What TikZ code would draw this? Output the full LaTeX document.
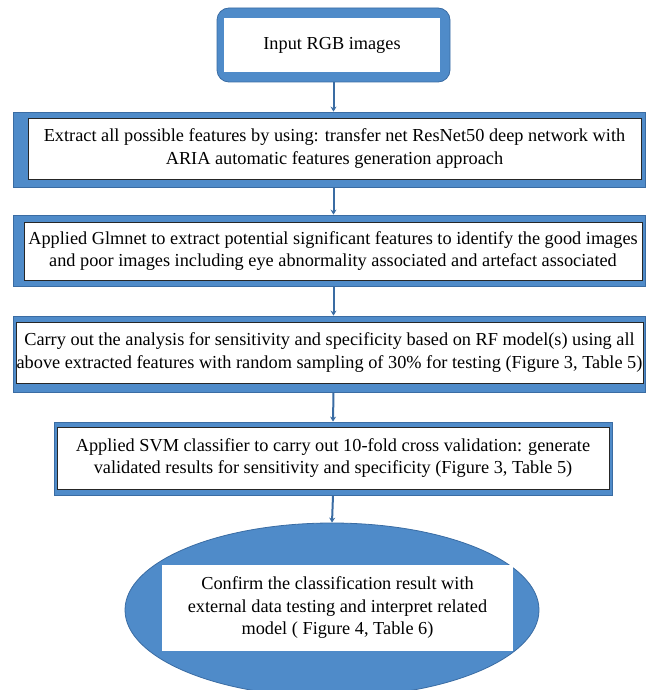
\documentclass[tikz,border=0pt]{standalone}
\usepackage{fontspec}
\setmainfont{Liberation Serif}
\usetikzlibrary{shapes.geometric,arrows.meta}

\definecolor{boxblue}{RGB}{79,139,201}
\definecolor{edgeblue}{RGB}{58,108,163}

\begin{document}
\begin{tikzpicture}[x=1pt,y=-1pt,
  outerbox/.style={draw=edgeblue,fill=boxblue,line width=0.8pt,inner sep=0pt},
  innerbox/.style={draw=black!85,fill=white,line width=0.7pt,inner sep=0pt,align=center,
    font=\fontsize{18.3}{22.5}\selectfont},
  flow/.style={edgeblue,line width=2pt,-{Stealth[length=5pt,width=6pt]}}]

\useasboundingbox (0,0) rectangle (645,690) ;

\node[outerbox,rounded corners=12pt,minimum width=233pt,minimum height=74pt] (out_input) at (333.5,45) {} ;
\node[innerbox,draw=none,minimum width=216pt,minimum height=54pt] (in_input) at (332,45) {Input RGB images} ;

\node[outerbox,minimum width=632pt,minimum height=75pt] (out_extract) at (329,149.5) {} ;
\node[innerbox,minimum width=613pt,minimum height=61pt] (in_extract) at (334.5,148.5)
  {Extract all possible features by using: transfer net ResNet50 deep network with\\ARIA automatic features generation approach} ;

\node[outerbox,minimum width=632pt,minimum height=71pt] (out_glmnet) at (329,250.5) {} ;
\node[innerbox,minimum width=618pt,minimum height=58pt] (in_glmnet) at (333,251)
  {Applied Glmnet to extract potential significant features to identify the good images\\and poor images including eye abnormality associated and artefact associated} ;

\node[outerbox,minimum width=632pt,minimum height=76pt] (out_rf) at (329,354) {} ;
\node[innerbox,minimum width=627pt,minimum height=61pt] (in_rf) at (329.5,352.5)
  {Carry out the analysis for sensitivity and specificity based on RF model(s) using all\\above extracted features with random sampling of 30\% for testing (Figure 3, Table 5)} ;

\node[outerbox,minimum width=558pt,minimum height=73pt] (out_svm) at (333,458.5) {} ;
\node[innerbox,minimum width=552pt,minimum height=62pt] (in_svm) at (333,458)
  {Applied SVM classifier to carry out 10-fold cross validation: generate\\validated results for sensitivity and specificity (Figure 3, Table 5)} ;

\node[outerbox,ellipse,minimum width=414pt,minimum height=174pt] (out_confirm) at (332,610) {} ;
\node[innerbox,draw=none,minimum width=351pt,minimum height=86pt] (in_confirm) at (337.5,608)
  {Confirm the classification result with\\external data testing and interpret related\\model ( Figure 4, Table 6)} ;

\draw[flow] (out_input.south) -- (out_input.south |- out_extract.north) ;
\draw[flow] (out_extract.south -| out_input.south) -- (out_input.south |- out_glmnet.north) ;
\draw[flow] (out_glmnet.south -| out_input.south) -- (out_input.south |- out_rf.north) ;
\draw[flow] (out_rf.south -| out_input.south) -- (out_svm.north) ;
\draw[flow] (out_svm.south) -- (out_confirm.north) ;

\end{tikzpicture}
\end{document}
